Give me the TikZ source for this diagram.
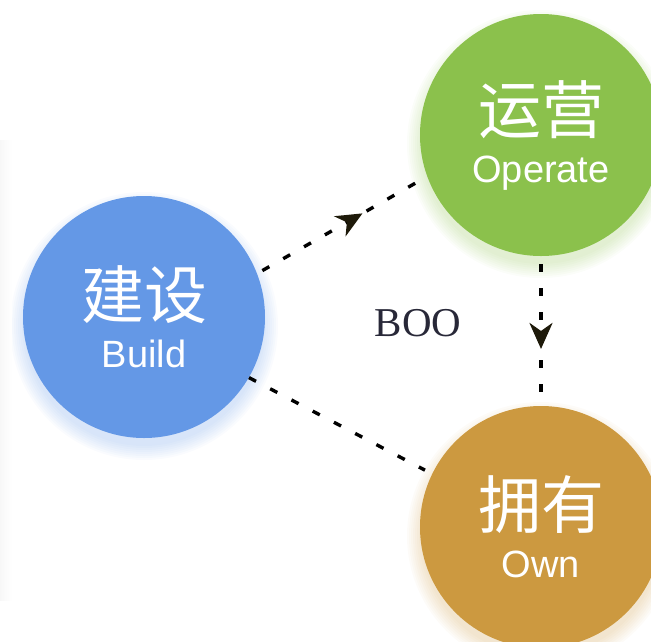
\documentclass[tikz,border=0pt]{standalone}
\usepackage{fontspec}
\setmainfont{Liberation Serif}
\setsansfont{Liberation Sans}
\newfontfamily\cjk{Noto Sans CJK SC}
\usetikzlibrary{positioning,arrows.meta,decorations.markings,backgrounds}

\definecolor{build_blue}{RGB}{100,152,230}
\definecolor{operate_green}{RGB}{139,193,76}
\definecolor{own_gold}{RGB}{204,153,64}
\definecolor{boo_ink}{RGB}{40,40,56}
\definecolor{tip_ink}{RGB}{30,26,10}

% two lines of text in a ball: chinese word, then english word
\newcommand{\balltext}[2]{{\cjk\fontsize{63}{49}\selectfont #1}\\{#2}}

\begin{document}
\begin{tikzpicture}[x=1pt, y=-1pt,
ball/.style={circle, minimum size=242pt, inner sep=0pt, text=white, align=center, font=\sffamily\fontsize{38}{49}\selectfont},
dotted_line/.style={line width=3.4pt, dash pattern=on 8pt off 16pt, black},
mid_arrow/.style={postaction={decorate}, decoration={markings, mark=at position 0.62 with {\arrow[tip_ink]{Stealth[length=26pt, width=23pt, inset=8pt]}}}},
boo_text/.style={text=boo_ink, font=\fontsize{41}{41}\selectfont}
]
\useasboundingbox (0,0) rectangle (651,641);
\clip (0,0) rectangle (651,641);

% faint edge of the page on the left
\shade[left color=black!3, right color=white] (0,140) rectangle (12,600);

% \node[ball, fill=colour](name) at (x,y) {\balltext{chinese}{english}};
\node[ball, fill=build_blue](build) at (144,317) {\balltext{建设}{Build}};
\node[ball, fill=operate_green](operate) at (541,135) {\balltext{运营}{Operate}};
\node[ball, fill=own_gold](own) at (541,527) {\balltext{拥有}{Own}};

\node[boo_text](boo) at (418,323) {BOO};

% soft glow under each ball
\begin{pgfonlayer}{background}
\foreach \ballname/\ballcolor in {build/build_blue, operate/operate_green, own/own_gold}
  \foreach \r in {120,122,...,134}
    \fill[\ballcolor, opacity=0.035] ([yshift=-9pt]\ballname.center) circle (\r pt);
\end{pgfonlayer}

% \draw[dotted_line, mid_arrow](name_of_node.angle) -- (name_of_node.angle)
\draw[dotted_line, mid_arrow, shorten <=6pt, shorten >=12pt](build.21) -- (operate.200);
\draw[dotted_line, mid_arrow, shorten <=8pt, shorten >=14pt](operate.south) -- (own.north);
\draw[dotted_line, shorten >=8pt](build.-30) -- (own.154);

\end{tikzpicture}
\end{document}
